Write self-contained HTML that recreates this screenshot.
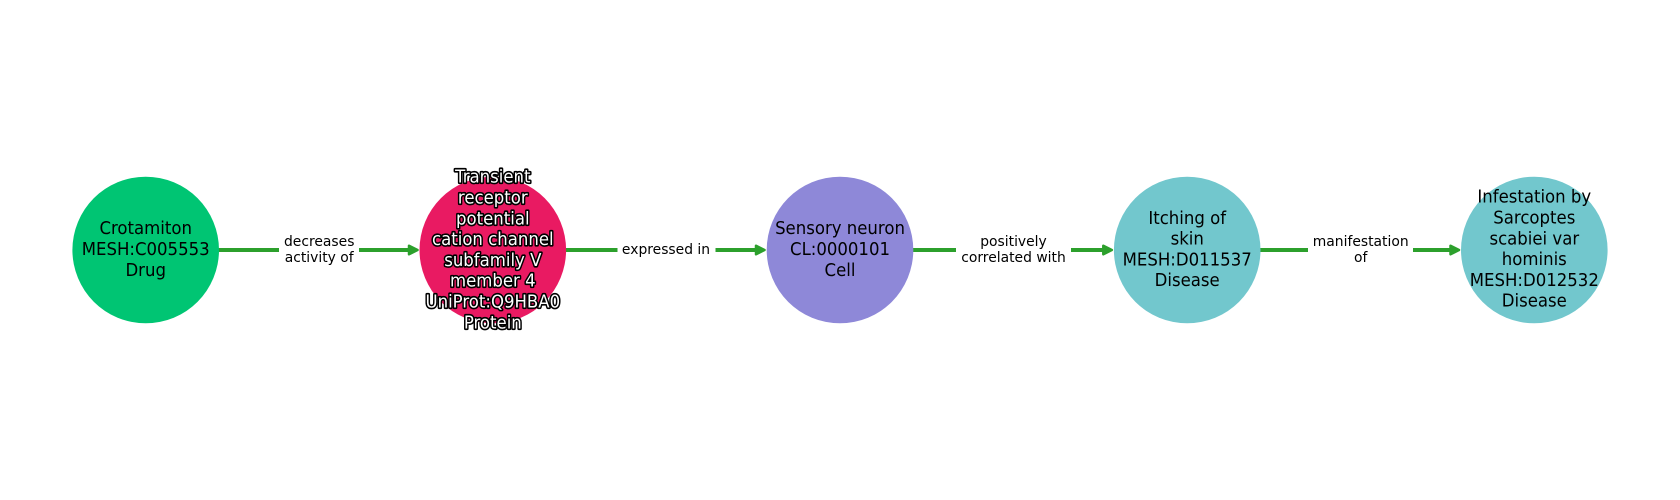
<!DOCTYPE html>
<html>
<head>
<meta charset="utf-8">
<style>
html,body{margin:0;padding:0;background:#fff;width:1680px;height:500px;overflow:hidden}
svg{display:block}
text{font-family:"DejaVu Sans",sans-serif;text-anchor:middle;fill:#000}
.n{font-size:16.67px}
.e{font-size:13.89px}
.o{fill:#fff;stroke:#000;stroke-width:3px;stroke-linejoin:round;paint-order:stroke}
.l{stroke:#2ca02c;stroke-width:4px;fill:none}
.a{fill:#2ca02c;stroke:#2ca02c;stroke-width:2.500px;stroke-linejoin:round}
</style>
</head>
<body>
<svg width="1680" height="500" viewBox="0 0 1680 500" xmlns="http://www.w3.org/2000/svg">
<rect width="1680" height="500" fill="#fff"/>

<path class="l" d="M218 250H279M359 250H410"/>
<path class="a" d="M409 245.700L417.500 250L409 254.300Z"/>
<path class="l" d="M566 250H617.500M715.500 250H757"/>
<path class="a" d="M756 245.700L764.500 250L756 254.300Z"/>
<path class="l" d="M913 250H956M1071 250H1104"/>
<path class="a" d="M1103.300 245.700L1111.800 250L1103.300 254.300Z"/>
<path class="l" d="M1260 250H1308M1413 250H1451"/>
<path class="a" d="M1450.500 245.700L1459 250L1450.500 254.300Z"/>

<circle cx="145.700" cy="250" r="73.300" fill="#00c573"/>
<circle cx="492.800" cy="250" r="73.300" fill="#e91a62"/>
<circle cx="840" cy="250" r="73.300" fill="#8e88d8"/>
<circle cx="1187.200" cy="250" r="73.300" fill="#72c7cd"/>
<circle cx="1534.300" cy="250" r="73.300" fill="#72c7cd"/>

<text class="n" transform="translate(145.700 234) scale(.993 1.07)">Crotamiton</text>
<text class="n" transform="translate(145.700 255) scale(.993 1.07)">MESH:C005553</text>
<text class="n" transform="translate(145.700 276) scale(.993 1.07)">Drug</text>

<text class="n o" transform="translate(492.800 182.700) scale(.993 1.07)">Transient</text>
<text class="n o" transform="translate(492.800 203.500) scale(.993 1.07)">receptor</text>
<text class="n o" transform="translate(492.800 224.300) scale(.993 1.07)">potential</text>
<text class="n o" transform="translate(492.800 245.100) scale(.993 1.07)">cation channel</text>
<text class="n o" transform="translate(492.800 265.900) scale(.993 1.07)">subfamily V</text>
<text class="n o" transform="translate(492.800 286.700) scale(.993 1.07)">member 4</text>
<text class="n o" transform="translate(492.800 307.500) scale(.993 1.07)">UniProt:Q9HBA0</text>
<text class="n o" transform="translate(492.800 328.300) scale(.993 1.07)">Protein</text>

<text class="n" transform="translate(840 234) scale(.993 1.07)">Sensory neuron</text>
<text class="n" transform="translate(840 255) scale(.993 1.07)">CL:0000101</text>
<text class="n" transform="translate(840 276) scale(.993 1.07)">Cell</text>

<text class="n" transform="translate(1187.200 224) scale(.993 1.07)">Itching of</text>
<text class="n" transform="translate(1187.200 244.700) scale(.993 1.07)">skin</text>
<text class="n" transform="translate(1187.200 265.400) scale(.993 1.07)">MESH:D011537</text>
<text class="n" transform="translate(1187.200 286) scale(.993 1.07)">Disease</text>

<text class="n" transform="translate(1534.300 202.700) scale(.993 1.07)">Infestation by</text>
<text class="n" transform="translate(1534.300 223.500) scale(.993 1.07)">Sarcoptes</text>
<text class="n" transform="translate(1534.300 244.300) scale(.993 1.07)">scabiei var</text>
<text class="n" transform="translate(1534.300 265.100) scale(.993 1.07)">hominis</text>
<text class="n" transform="translate(1534.300 285.900) scale(.993 1.07)">MESH:D012532</text>
<text class="n" transform="translate(1534.300 306.700) scale(.993 1.07)">Disease</text>

<text class="e" transform="translate(319.200 246) scale(1 1.05)">decreases</text>
<text class="e" transform="translate(319.200 262) scale(1 1.05)">activity of</text>
<text class="e" transform="translate(666 254) scale(1 1.05)">expressed in</text>
<text class="e" transform="translate(1013.500 246) scale(1 1.05)">positively</text>
<text class="e" transform="translate(1013.500 262) scale(1 1.05)">correlated with</text>
<text class="e" transform="translate(1360.700 246) scale(1 1.05)">manifestation</text>
<text class="e" transform="translate(1360.700 262) scale(1 1.05)">of</text>
</svg>
</body>
</html>
